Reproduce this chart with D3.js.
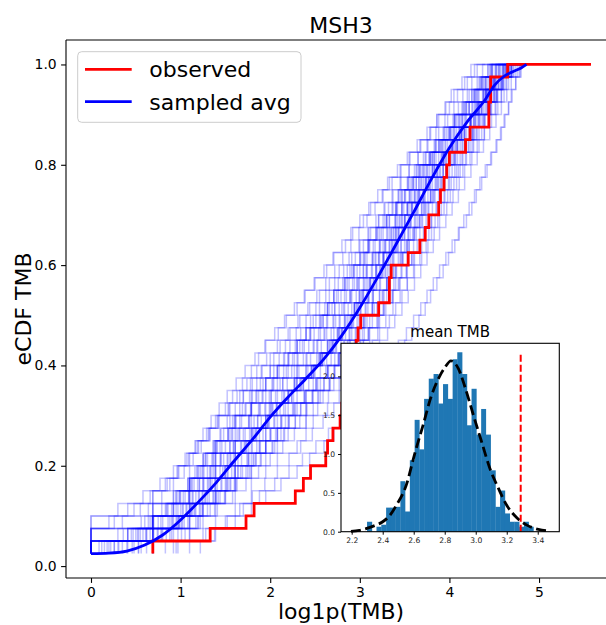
<!DOCTYPE html>
<html>
<head>
<meta charset="utf-8">
<script src="https://cdn.jsdelivr.net/npm/d3@7"></script>
<style>
  html, body { margin: 0; padding: 0; background: #fff; }
  svg { display: block; font-family: "DejaVu Sans", sans-serif; }
</style>
</head>
<body>
<svg id="chart" width="606" height="625"></svg>
<script>
// ---- data -------------------------------------------------------------
// Sorted log1p(TMB) values of the observed MSH3 group (40 tumours)
const observedTMB = [0.69, 1.33, 1.73, 1.82, 2.28, 2.37, 2.45, 2.62, 2.64, 2.70,
  2.78, 2.80, 2.84, 2.87, 2.90, 2.93, 2.96, 2.98, 3.01, 3.21,
  3.33, 3.33, 3.35, 3.54, 3.67, 3.73, 3.77, 3.88, 3.90, 3.94,
  3.97, 4.00, 4.18, 4.23, 4.44, 4.44, 4.46, 4.46, 4.65, 5.58];

// Sorted log1p(TMB) values of resampled groups of the same size
const sampledTMB = [
  [0, 0.41, 0.69, 0.92, 1.05, 1.19, 1.30, 1.39, 1.50, 1.63, 1.76, 1.88, 2.01, 2.14, 2.30, 2.41, 2.53, 2.61, 2.71, 2.83, 2.89, 2.97, 3.04, 3.14, 3.22, 3.33, 3.40, 3.47, 3.58, 3.66, 3.74, 3.83, 3.96, 4.06, 4.15, 4.25, 4.30, 4.40, 4.51, 4.66],
  [0.48, 0.88, 1.10, 1.22, 1.39, 1.50, 1.61, 1.76, 1.89, 2.01, 2.12, 2.26, 2.38, 2.52, 2.64, 2.76, 2.86, 2.95, 3.06, 3.14, 3.22, 3.31, 3.40, 3.46, 3.52, 3.59, 3.66, 3.72, 3.79, 3.88, 3.96, 4.06, 4.14, 4.26, 4.33, 4.43, 4.50, 4.58, 4.69, 4.84],
  [0.18, 0.62, 0.95, 1.03, 1.17, 1.33, 1.44, 1.52, 1.67, 1.80, 1.90, 2.00, 2.15, 2.27, 2.40, 2.55, 2.64, 2.76, 2.84, 2.94, 3.02, 3.12, 3.18, 3.26, 3.35, 3.41, 3.50, 3.59, 3.64, 3.73, 3.81, 3.93, 4.03, 4.11, 4.23, 4.33, 4.40, 4.47, 4.60, 4.73],
  [0, 0, 0.56, 0.79, 0.95, 1.08, 1.16, 1.26, 1.37, 1.45, 1.55, 1.66, 1.77, 1.89, 2.00, 2.10, 2.22, 2.34, 2.45, 2.55, 2.66, 2.76, 2.86, 2.95, 3.04, 3.12, 3.21, 3.28, 3.37, 3.46, 3.55, 3.65, 3.76, 3.88, 3.98, 4.10, 4.20, 4.31, 4.43, 4.60],
  [0.69, 1.01, 1.19, 1.33, 1.49, 1.63, 1.77, 1.90, 2.03, 2.16, 2.28, 2.40, 2.53, 2.66, 2.79, 2.90, 3.00, 3.10, 3.19, 3.27, 3.36, 3.44, 3.52, 3.60, 3.67, 3.73, 3.80, 3.88, 3.95, 4.02, 4.10, 4.18, 4.27, 4.36, 4.44, 4.51, 4.58, 4.64, 4.74, 4.86],
  [0.35, 0.74, 0.90, 1.12, 1.25, 1.33, 1.50, 1.61, 1.68, 1.84, 1.97, 2.07, 2.16, 2.34, 2.46, 2.54, 2.70, 2.77, 2.90, 2.97, 3.03, 3.15, 3.22, 3.27, 3.39, 3.44, 3.54, 3.58, 3.70, 3.77, 3.84, 3.97, 4.04, 4.17, 4.24, 4.36, 4.41, 4.52, 4.61, 4.77],
  [0, 0.30, 0.66, 0.85, 0.99, 1.12, 1.24, 1.35, 1.44, 1.55, 1.66, 1.78, 1.92, 2.04, 2.18, 2.31, 2.43, 2.54, 2.63, 2.72, 2.83, 2.92, 3.00, 3.08, 3.17, 3.26, 3.33, 3.42, 3.51, 3.58, 3.67, 3.77, 3.88, 3.99, 4.08, 4.19, 4.29, 4.38, 4.48, 4.64],
  [0.26, 0.75, 0.99, 1.15, 1.30, 1.46, 1.60, 1.74, 1.88, 2.00, 2.13, 2.27, 2.40, 2.53, 2.65, 2.78, 2.89, 2.99, 3.08, 3.16, 3.25, 3.33, 3.40, 3.48, 3.55, 3.63, 3.70, 3.77, 3.84, 3.92, 4.00, 4.09, 4.18, 4.27, 4.37, 4.45, 4.53, 4.60, 4.70, 4.83],
  [0, 0.55, 0.80, 0.97, 1.09, 1.21, 1.33, 1.45, 1.59, 1.72, 1.86, 1.99, 2.13, 2.27, 2.42, 2.56, 2.69, 2.80, 2.91, 3.01, 3.10, 3.19, 3.28, 3.37, 3.46, 3.54, 3.62, 3.71, 3.79, 3.87, 3.96, 4.05, 4.15, 4.24, 4.33, 4.42, 4.50, 4.57, 4.67, 4.80],
  [0.83, 1.05, 1.17, 1.30, 1.42, 1.53, 1.64, 1.75, 1.85, 1.95, 2.05, 2.15, 2.26, 2.37, 2.48, 2.58, 2.67, 2.75, 2.83, 2.91, 2.99, 3.07, 3.14, 3.21, 3.28, 3.35, 3.42, 3.49, 3.56, 3.63, 3.71, 3.79, 3.88, 3.97, 4.06, 4.16, 4.25, 4.34, 4.45, 4.59],
  [0, 0.41, 0.64, 0.83, 1.00, 1.10, 1.22, 1.30, 1.41, 1.53, 1.62, 1.73, 1.84, 1.95, 2.08, 2.21, 2.33, 2.44, 2.55, 2.64, 2.74, 2.84, 2.93, 3.01, 3.10, 3.19, 3.28, 3.36, 3.45, 3.54, 3.63, 3.73, 3.84, 3.94, 4.05, 4.15, 4.25, 4.36, 4.47, 4.62],
  [0.62, 0.97, 1.22, 1.41, 1.58, 1.73, 1.87, 2.00, 2.14, 2.27, 2.40, 2.53, 2.65, 2.77, 2.90, 3.01, 3.11, 3.20, 3.29, 3.37, 3.45, 3.53, 3.60, 3.67, 3.74, 3.80, 3.87, 3.94, 4.01, 4.08, 4.15, 4.23, 4.31, 4.39, 4.47, 4.54, 4.61, 4.66, 4.76, 4.86],
  [0, 0, 0.35, 0.64, 0.79, 0.92, 1.04, 1.14, 1.23, 1.32, 1.43, 1.53, 1.63, 1.74, 1.85, 1.96, 2.08, 2.20, 2.31, 2.42, 2.52, 2.62, 2.72, 2.81, 2.90, 2.99, 3.08, 3.17, 3.26, 3.36, 3.46, 3.56, 3.67, 3.78, 3.86, 3.95, 4.02, 4.17, 4.28, 4.47],
  [0.12, 0.69, 0.96, 1.11, 1.20, 1.38, 1.49, 1.55, 1.73, 1.81, 1.95, 2.02, 2.20, 2.29, 2.46, 2.58, 2.66, 2.80, 2.86, 2.98, 3.04, 3.11, 3.23, 3.30, 3.36, 3.47, 3.51, 3.62, 3.67, 3.77, 3.86, 3.94, 4.06, 4.14, 4.27, 4.33, 4.43, 4.49, 4.63, 4.78],
  [0.56, 0.84, 1.02, 1.17, 1.32, 1.45, 1.57, 1.68, 1.80, 1.92, 2.04, 2.17, 2.30, 2.43, 2.56, 2.68, 2.79, 2.88, 2.97, 3.06, 3.15, 3.23, 3.31, 3.38, 3.46, 3.54, 3.61, 3.69, 3.76, 3.84, 3.93, 4.02, 4.12, 4.22, 4.31, 4.40, 4.47, 4.55, 4.66, 4.81],
  [0, 0.62, 0.86, 1.00, 1.13, 1.26, 1.37, 1.48, 1.59, 1.70, 1.82, 1.94, 2.06, 2.19, 2.32, 2.45, 2.57, 2.68, 2.78, 2.87, 2.96, 3.05, 3.13, 3.21, 3.29, 3.37, 3.45, 3.53, 3.61, 3.69, 3.78, 3.88, 3.98, 4.08, 4.18, 4.28, 4.37, 4.45, 4.56, 4.72],
  [0, 0.58, 0.92, 1.16, 1.36, 1.52, 1.67, 1.81, 1.95, 2.08, 2.21, 2.34, 2.47, 2.60, 2.72, 2.84, 2.95, 3.05, 3.14, 3.22, 3.30, 3.38, 3.46, 3.53, 3.60, 3.67, 3.74, 3.81, 3.88, 3.95, 4.03, 4.12, 4.21, 4.30, 4.38, 4.46, 4.54, 4.61, 4.71, 4.84],
  [0.40, 0.70, 0.88, 1.02, 1.14, 1.25, 1.35, 1.45, 1.55, 1.65, 1.76, 1.87, 1.99, 2.11, 2.24, 2.37, 2.49, 2.60, 2.70, 2.80, 2.90, 2.99, 3.08, 3.17, 3.26, 3.35, 3.44, 3.53, 3.62, 3.71, 3.81, 3.91, 4.02, 4.13, 4.24, 4.34, 4.43, 4.52, 4.64, 4.80],
  [0.69, 0.69, 0.98, 1.10, 1.24, 1.39, 1.50, 1.61, 1.72, 1.85, 1.97, 2.08, 2.21, 2.35, 2.48, 2.60, 2.71, 2.81, 2.90, 2.99, 3.08, 3.16, 3.24, 3.32, 3.40, 3.48, 3.55, 3.63, 3.71, 3.79, 3.87, 3.96, 4.07, 4.17, 4.27, 4.36, 4.44, 4.51, 4.62, 4.76],
  [0.22, 0.52, 0.75, 0.90, 1.03, 1.15, 1.26, 1.36, 1.46, 1.57, 1.68, 1.79, 1.91, 2.03, 2.15, 2.27, 2.38, 2.49, 2.59, 2.69, 2.79, 2.88, 2.97, 3.06, 3.15, 3.24, 3.33, 3.41, 3.50, 3.59, 3.68, 3.78, 3.89, 4.00, 4.11, 4.22, 4.32, 4.41, 4.53, 4.69],
  [0.31, 0.80, 1.04, 1.21, 1.37, 1.51, 1.64, 1.76, 1.88, 2.00, 2.12, 2.25, 2.38, 2.51, 2.64, 2.76, 2.87, 2.96, 3.05, 3.14, 3.22, 3.30, 3.38, 3.45, 3.53, 3.60, 3.67, 3.74, 3.82, 3.90, 3.98, 4.07, 4.17, 4.26, 4.35, 4.43, 4.51, 4.58, 4.69, 4.82],
  [0.09, 0.66, 0.91, 1.07, 1.21, 1.35, 1.47, 1.59, 1.71, 1.83, 1.95, 2.07, 2.20, 2.33, 2.46, 2.58, 2.69, 2.79, 2.88, 2.96, 3.04, 3.12, 3.19, 3.26, 3.33, 3.40, 3.47, 3.54, 3.61, 3.68, 3.75, 3.83, 3.92, 4.01, 4.10, 4.19, 4.28, 4.37, 4.48, 4.62],
  [0.95, 1.10, 1.25, 1.38, 1.50, 1.62, 1.73, 1.84, 1.95, 2.06, 2.17, 2.28, 2.39, 2.51, 2.62, 2.72, 2.82, 2.91, 2.99, 3.07, 3.15, 3.22, 3.29, 3.36, 3.43, 3.50, 3.57, 3.64, 3.71, 3.78, 3.86, 3.95, 4.04, 4.14, 4.24, 4.33, 4.42, 4.50, 4.60, 4.74],
  [0, 0.50, 0.78, 0.95, 1.09, 1.21, 1.33, 1.44, 1.55, 1.66, 1.77, 1.89, 2.01, 2.14, 2.27, 2.40, 2.52, 2.63, 2.73, 2.82, 2.91, 2.99, 3.07, 3.15, 3.23, 3.31, 3.39, 3.47, 3.55, 3.63, 3.72, 3.81, 3.91, 4.01, 4.12, 4.22, 4.31, 4.40, 4.52, 4.68],
  [1.22, 1.38, 1.52, 1.66, 1.80, 1.94, 2.08, 2.21, 2.34, 2.47, 2.59, 2.71, 2.82, 2.93, 3.03, 3.13, 3.22, 3.31, 3.39, 3.47, 3.54, 3.61, 3.68, 3.75, 3.82, 3.89, 3.96, 4.03, 4.10, 4.17, 4.24, 4.31, 4.38, 4.45, 4.52, 4.58, 4.64, 4.69, 4.78, 4.86],
  [0, 0, 0.20, 0.48, 0.69, 0.85, 0.98, 1.09, 1.20, 1.31, 1.42, 1.54, 1.66, 1.78, 1.91, 2.04, 2.17, 2.29, 2.40, 2.51, 2.62, 2.72, 2.82, 2.91, 3.00, 3.09, 3.18, 3.27, 3.36, 3.45, 3.55, 3.65, 3.75, 3.85, 3.95, 4.05, 4.15, 4.25, 4.37, 4.55],
  [0.46, 0.78, 0.97, 1.13, 1.27, 1.41, 1.53, 1.64, 1.76, 1.88, 1.99, 2.11, 2.24, 2.37, 2.50, 2.63, 2.74, 2.84, 2.93, 3.01, 3.10, 3.18, 3.26, 3.34, 3.42, 3.50, 3.57, 3.65, 3.73, 3.81, 3.90, 3.99, 4.09, 4.19, 4.29, 4.38, 4.46, 4.54, 4.65, 4.79],
  [0, 0.69, 0.69, 1.10, 1.10, 1.30, 1.39, 1.53, 1.61, 1.79, 1.86, 2.01, 2.08, 2.30, 2.40, 2.56, 2.64, 2.77, 2.83, 2.94, 3.00, 3.09, 3.18, 3.26, 3.33, 3.43, 3.50, 3.58, 3.66, 3.74, 3.83, 3.93, 4.03, 4.13, 4.23, 4.32, 4.41, 4.48, 4.59, 4.75],
  [0.53, 0.90, 1.08, 1.24, 1.40, 1.55, 1.69, 1.82, 1.95, 2.08, 2.21, 2.34, 2.47, 2.60, 2.72, 2.84, 2.94, 3.03, 3.11, 3.19, 3.27, 3.34, 3.41, 3.48, 3.55, 3.61, 3.67, 3.73, 3.79, 3.86, 3.93, 4.00, 4.08, 4.16, 4.24, 4.31, 4.38, 4.45, 4.55, 4.70],
  [0.15, 0.45, 0.68, 0.84, 0.97, 1.08, 1.18, 1.28, 1.38, 1.48, 1.58, 1.69, 1.80, 1.92, 2.04, 2.16, 2.28, 2.40, 2.51, 2.61, 2.71, 2.81, 2.91, 3.00, 3.10, 3.20, 3.30, 3.40, 3.50, 3.60, 3.70, 3.81, 3.93, 4.05, 4.17, 4.29, 4.40, 4.50, 4.63, 4.81],
  [0, 0, 0, 0.41, 0.66, 0.83, 0.96, 1.07, 1.16, 1.25, 1.34, 1.43, 1.52, 1.62, 1.72, 1.83, 1.94, 2.05, 2.16, 2.27, 2.38, 2.49, 2.60, 2.70, 2.80, 2.90, 3.00, 3.10, 3.20, 3.31, 3.42, 3.53, 3.64, 3.75, 3.86, 3.96, 4.05, 4.14, 4.24, 4.40],
  [0.97, 1.28, 1.50, 1.70, 1.88, 2.05, 2.21, 2.36, 2.51, 2.65, 2.78, 2.91, 3.03, 3.14, 3.24, 3.34, 3.43, 3.52, 3.60, 3.68, 3.75, 3.82, 3.89, 3.96, 4.03, 4.10, 4.16, 4.22, 4.28, 4.34, 4.40, 4.46, 4.52, 4.57, 4.62, 4.66, 4.70, 4.74, 4.80, 4.86],
  [0, 0, 0.26, 0.55, 0.69, 0.88, 0.97, 1.10, 1.19, 1.33, 1.39, 1.50, 1.58, 1.69, 1.79, 1.87, 1.95, 2.09, 2.18, 2.30, 2.39, 2.50, 2.63, 2.71, 2.84, 2.92, 3.04, 3.12, 3.25, 3.33, 3.45, 3.55, 3.68, 3.79, 3.88, 4.00, 4.09, 4.20, 4.31, 4.49],
  [1.10, 1.39, 1.61, 1.79, 1.95, 2.12, 2.30, 2.44, 2.60, 2.71, 2.86, 2.99, 3.10, 3.22, 3.30, 3.41, 3.50, 3.58, 3.66, 3.73, 3.79, 3.86, 3.93, 3.99, 4.06, 4.11, 4.19, 4.25, 4.30, 4.36, 4.42, 4.47, 4.53, 4.58, 4.61, 4.66, 4.69, 4.74, 4.79, 4.86],
  [0.30, 0.61, 0.98, 1.06, 1.28, 1.31, 1.52, 1.56, 1.74, 1.77, 1.98, 2.03, 2.24, 2.27, 2.49, 2.52, 2.73, 2.75, 2.92, 2.94, 3.09, 3.11, 3.25, 3.27, 3.41, 3.43, 3.56, 3.58, 3.72, 3.74, 3.89, 3.91, 4.09, 4.11, 4.29, 4.31, 4.45, 4.47, 4.62, 4.78],
  [0, 0.36, 0.60, 0.92, 0.95, 1.13, 1.20, 1.37, 1.40, 1.58, 1.60, 1.79, 1.85, 2.02, 2.10, 2.25, 2.36, 2.45, 2.57, 2.66, 2.76, 2.86, 2.93, 3.05, 3.11, 3.22, 3.30, 3.41, 3.47, 3.60, 3.66, 3.79, 3.85, 4.00, 4.06, 4.18, 4.27, 4.35, 4.46, 4.60],
  [0.69, 0.79, 1.20, 1.25, 1.50, 1.56, 1.79, 1.84, 2.05, 2.12, 2.33, 2.40, 2.59, 2.66, 2.84, 2.90, 3.04, 3.10, 3.21, 3.27, 3.37, 3.43, 3.52, 3.58, 3.67, 3.72, 3.80, 3.86, 3.94, 4.00, 4.08, 4.15, 4.24, 4.31, 4.39, 4.46, 4.53, 4.60, 4.69, 4.84],
  [0, 0, 0, 0.30, 0.58, 0.77, 0.92, 1.05, 1.17, 1.29, 1.41, 1.55, 1.70, 1.85, 2.00, 2.15, 2.30, 2.45, 2.59, 2.72, 2.85, 2.97, 3.08, 3.18, 3.28, 3.38, 3.47, 3.56, 3.65, 3.74, 3.83, 3.93, 4.03, 4.13, 4.23, 4.32, 4.41, 4.49, 4.60, 4.76],
  [0.20, 0.47, 0.70, 0.86, 0.99, 1.10, 1.19, 1.28, 1.36, 1.44, 1.52, 1.61, 1.70, 1.80, 1.90, 2.00, 2.11, 2.22, 2.33, 2.44, 2.55, 2.66, 2.77, 2.88, 2.99, 3.10, 3.21, 3.32, 3.43, 3.54, 3.66, 3.78, 3.90, 4.02, 4.14, 4.26, 4.38, 4.50, 4.64, 4.82],
  [0, 0.69, 1.01, 1.25, 1.44, 1.60, 1.75, 1.89, 2.02, 2.15, 2.28, 2.41, 2.54, 2.67, 2.79, 2.91, 3.01, 3.11, 3.20, 3.29, 3.37, 3.45, 3.53, 3.61, 3.69, 3.77, 3.84, 3.91, 3.98, 4.05, 4.12, 4.19, 4.26, 4.33, 4.40, 4.47, 4.53, 4.59, 4.67, 4.80],
  [0.41, 0.69, 0.69, 1.10, 1.39, 1.39, 1.61, 1.61, 1.79, 2.08, 2.08, 2.20, 2.40, 2.48, 2.64, 2.77, 2.83, 2.89, 3.04, 3.09, 3.14, 3.30, 3.33, 3.43, 3.50, 3.56, 3.64, 3.69, 3.81, 3.85, 3.93, 4.04, 4.09, 4.17, 4.28, 4.36, 4.41, 4.51, 4.57, 4.74],
  [0, 0.69, 0.69, 0.69, 1.10, 1.10, 1.39, 1.39, 1.61, 1.79, 1.95, 1.95, 2.20, 2.30, 2.30, 2.56, 2.64, 2.71, 2.77, 2.94, 3.00, 3.04, 3.18, 3.22, 3.37, 3.40, 3.50, 3.53, 3.66, 3.76, 3.81, 3.93, 4.01, 4.11, 4.19, 4.30, 4.38, 4.44, 4.55, 4.70],
  [0.53, 1.10, 1.10, 1.25, 1.61, 1.61, 1.79, 1.95, 2.08, 2.20, 2.40, 2.48, 2.56, 2.71, 2.83, 2.94, 3.04, 3.09, 3.22, 3.26, 3.33, 3.40, 3.47, 3.58, 3.64, 3.71, 3.78, 3.85, 3.91, 3.99, 4.06, 4.14, 4.22, 4.28, 4.39, 4.45, 4.52, 4.59, 4.69, 4.82],
  [0, 0, 0.69, 0.69, 0.92, 1.10, 1.10, 1.25, 1.39, 1.53, 1.61, 1.79, 1.79, 1.95, 2.08, 2.20, 2.30, 2.40, 2.56, 2.64, 2.71, 2.83, 2.89, 3.00, 3.09, 3.18, 3.26, 3.37, 3.43, 3.53, 3.61, 3.71, 3.83, 3.93, 4.04, 4.14, 4.22, 4.33, 4.43, 4.58],
  [0.69, 0.92, 1.10, 1.39, 1.39, 1.61, 1.61, 1.79, 1.95, 1.95, 2.20, 2.30, 2.48, 2.56, 2.71, 2.77, 2.89, 3.00, 3.04, 3.14, 3.26, 3.30, 3.37, 3.47, 3.53, 3.61, 3.69, 3.76, 3.83, 3.91, 3.97, 4.06, 4.17, 4.25, 4.33, 4.42, 4.49, 4.55, 4.65, 4.79],
  [0.26, 0.53, 0.69, 0.92, 1.10, 1.25, 1.39, 1.39, 1.61, 1.61, 1.79, 1.79, 1.95, 2.08, 2.20, 2.30, 2.48, 2.56, 2.64, 2.77, 2.89, 2.94, 3.04, 3.14, 3.22, 3.30, 3.40, 3.47, 3.56, 3.66, 3.76, 3.85, 3.95, 4.04, 4.14, 4.22, 4.33, 4.42, 4.52, 4.66],
  [0.92, 1.25, 1.39, 1.61, 1.79, 1.79, 1.95, 2.08, 2.30, 2.40, 2.48, 2.64, 2.77, 2.83, 2.94, 3.04, 3.14, 3.22, 3.33, 3.40, 3.47, 3.53, 3.61, 3.69, 3.76, 3.83, 3.89, 3.97, 4.04, 4.11, 4.17, 4.25, 4.33, 4.39, 4.45, 4.52, 4.58, 4.63, 4.72, 4.86],
  [0, 0.41, 0.69, 0.69, 0.92, 1.10, 1.25, 1.25, 1.39, 1.53, 1.61, 1.72, 1.87, 1.95, 2.08, 2.20, 2.30, 2.40, 2.48, 2.64, 2.71, 2.83, 2.94, 3.04, 3.09, 3.18, 3.30, 3.40, 3.47, 3.56, 3.64, 3.74, 3.85, 3.95, 4.06, 4.17, 4.28, 4.36, 4.47, 4.63]
];

// Average eCDF of the resampled groups
const avgCurveX = [0, 0.2, 0.4, 0.6, 0.8, 1.0, 1.2, 1.4, 1.6, 1.8, 2.0, 2.2, 2.4, 2.6, 2.8,
  3.0, 3.2, 3.4, 3.6, 3.8, 4.0, 4.2, 4.4, 4.5, 4.6, 4.7, 4.8, 4.86];
const avgCurveY = [0.025, 0.026, 0.030, 0.042, 0.062, 0.092, 0.128, 0.167, 0.210, 0.252, 0.297, 0.337, 0.374, 0.413, 0.460,
  0.515, 0.576, 0.640, 0.705, 0.772, 0.834, 0.886, 0.930, 0.958, 0.975, 0.985, 0.993, 1.0];

// Histogram (density) of the resampled group means
const histBinEdges = [2.299, 2.330, 2.360, 2.391, 2.422, 2.452, 2.483, 2.514, 2.544, 2.575,
  2.606, 2.636, 2.667, 2.697, 2.728, 2.759, 2.789, 2.820, 2.851, 2.881,
  2.912, 2.943, 2.973, 3.004, 3.035, 3.065, 3.096, 3.127, 3.157, 3.188,
  3.219, 3.249, 3.280, 3.311, 3.341, 3.372];
const histDensity = [0.128, 0, 0.064, 0.09, 0.31, 0.31, 0.32, 0.65, 0.26, 0.92,
  1.44, 1.06, 1.71, 1.97, 2.03, 1.65, 1.90, 1.71, 2.22, 2.31,
  2.03, 1.37, 1.84, 1.25, 1.58, 1.25, 0.79, 0.32, 0.53, 0.235,
  0.128, 0.128, 0.064, 0.128, 0.064];

// Fitted normal density over the means
const normalFitX = [2.195, 2.25, 2.293, 2.35, 2.40, 2.45, 2.488, 2.552, 2.606, 2.66, 2.714, 2.767, 2.80,
  2.84, 2.888, 2.931, 2.985, 3.039, 3.092, 3.146, 3.2, 3.265, 3.33, 3.404, 3.475];
const normalFitY = [0.005, 0.018, 0.04, 0.08, 0.128, 0.22, 0.34, 0.60, 1.0, 1.37, 1.75, 2.0, 2.11,
  2.2, 2.1, 1.86, 1.50, 1.15, 0.81, 0.56, 0.34, 0.18, 0.085, 0.03, 0.01];

// Mean log1p(TMB) of the observed group
const observedMeanTMB = 3.29;

const xTicks = [0, 1, 2, 3, 4, 5];
const yTicks = [0.0, 0.2, 0.4, 0.6, 0.8, 1.0];
const insetXTicks = [2.2, 2.4, 2.6, 2.8, 3.0, 3.2, 3.4];
const insetYTicks = [0.0, 0.5, 1.0, 1.5, 2.0];

// ---- layout -------------------------------------------------------------
const svg = d3.select("#chart");
const plot = { left: 66, right: 616, top: 40, bottom: 578 };
const inset = { left: 341, right: 559.3, top: 343.3, bottom: 531.7 };

function padded(lo, hi, f) { const p = (hi - lo) * f; return [lo - p, hi + p]; }

const x = d3.scaleLinear()
  .domain(padded(0, d3.max(observedTMB), 0.05))
  .range([plot.left, plot.right]);
const y = d3.scaleLinear()
  .domain(padded(1 / observedTMB.length, 1, 0.05))
  .range([plot.bottom, plot.top]);

// eCDF as points (value, rank / n)
const ecdf = vals => vals.map((v, i) => [v, (i + 1) / vals.length]);
const stepLine = d3.line().x(d => x(d[0])).y(d => y(d[1])).curve(d3.curveStepBefore);

// Resampled eCDFs
svg.append("g")
  .selectAll("path")
  .data(sampledTMB)
  .join("path")
  .attr("d", s => stepLine(ecdf(s)))
  .attr("fill", "none")
  .attr("stroke", "blue")
  .attr("stroke-opacity", 0.24)
  .attr("stroke-width", 1.5);

// Observed eCDF
svg.append("path")
  .attr("d", stepLine(ecdf(observedTMB)))
  .attr("fill", "none")
  .attr("stroke", "red")
  .attr("stroke-width", 2.8);

// Average of the resampled eCDFs
const avgLine = d3.line().x(d => x(d[0])).y(d => y(d[1])).curve(d3.curveMonotoneX);
svg.append("path")
  .attr("d", avgLine(avgCurveX.map((v, i) => [v, avgCurveY[i]])))
  .attr("fill", "none")
  .attr("stroke", "blue")
  .attr("stroke-width", 2.8);

// ---- main axes ------------------------------------------------------------
const frame = svg.append("g").attr("stroke", "#000").attr("stroke-width", 1.1).attr("fill", "none");
frame.append("line").attr("x1", plot.left).attr("x2", plot.left).attr("y1", plot.top).attr("y2", plot.bottom);
frame.append("line").attr("x1", plot.left).attr("x2", plot.right).attr("y1", plot.top).attr("y2", plot.top);
frame.append("line").attr("x1", plot.left).attr("x2", plot.right).attr("y1", plot.bottom).attr("y2", plot.bottom);

const xAxis = d3.axisBottom(x).tickValues(xTicks).tickFormat(d3.format("d")).tickSize(4.9).tickPadding(4.4);
svg.append("g").attr("transform", `translate(0,${plot.bottom})`).call(xAxis)
  .call(g => g.select(".domain").remove())
  .call(g => g.selectAll("line").attr("stroke-width", 1.1))
  .call(g => g.selectAll("text").attr("font-size", 13.9).attr("font-family", "DejaVu Sans").attr("fill", "#000"));

const yAxis = d3.axisLeft(y).tickValues(yTicks).tickFormat(d3.format(".1f")).tickSize(4.9).tickPadding(4.4);
svg.append("g").attr("transform", `translate(${plot.left},0)`).call(yAxis)
  .call(g => g.select(".domain").remove())
  .call(g => g.selectAll("line").attr("stroke-width", 1.1))
  .call(g => g.selectAll("text").attr("font-size", 13.9).attr("font-family", "DejaVu Sans").attr("fill", "#000"));

svg.append("text").attr("x", (plot.left + plot.right) / 2).attr("y", 33)
  .attr("text-anchor", "middle").attr("font-size", 22).text("MSH3");
svg.append("text").attr("x", (plot.left + plot.right) / 2).attr("y", 619)
  .attr("text-anchor", "middle").attr("font-size", 22).text("log1p(TMB)");
svg.append("text").attr("transform", `translate(31,${(plot.top + plot.bottom) / 2}) rotate(-90)`)
  .attr("text-anchor", "middle").attr("font-size", 22).text("eCDF TMB");

// ---- legend ---------------------------------------------------------------
const legend = svg.append("g");
legend.append("rect").attr("x", 77.7).attr("y", 51.7).attr("width", 223.3).attr("height", 70.6)
  .attr("rx", 4).attr("fill", "#fff").attr("fill-opacity", 0.8).attr("stroke", "#cccccc").attr("stroke-width", 1);
[["observed", "red", 69.3], ["sampled avg", "blue", 101.7]].forEach(([label, color, ly]) => {
  legend.append("line").attr("x1", 85).attr("x2", 131.7).attr("y1", ly).attr("y2", ly)
    .attr("stroke", color).attr("stroke-width", 2.8);
  legend.append("text").attr("x", 149.3).attr("y", ly + 7.8).attr("font-size", 22).text(label);
});

// ---- inset: distribution of resampled means ----------------------------------
const ix = d3.scaleLinear()
  .domain(padded(normalFitX[0], normalFitX[normalFitX.length - 1], 0.05))
  .range([inset.left, inset.right]);
const iy = d3.scaleLinear()
  .domain([0, d3.max(histDensity) * 1.05])
  .range([inset.bottom, inset.top]);

const ig = svg.append("g");
ig.append("rect").attr("x", inset.left).attr("y", inset.top)
  .attr("width", inset.right - inset.left).attr("height", inset.bottom - inset.top).attr("fill", "#fff");

ig.append("g").selectAll("rect")
  .data(histDensity)
  .join("rect")
  .attr("x", (d, i) => ix(histBinEdges[i]))
  .attr("width", (d, i) => ix(histBinEdges[i + 1]) - ix(histBinEdges[i]) + 0.3)
  .attr("y", d => iy(d))
  .attr("height", d => iy(0) - iy(d))
  .attr("fill", "#1f77b4");

const fitLine = d3.line().x(d => ix(d[0])).y(d => iy(d[1])).curve(d3.curveMonotoneX);
ig.append("path")
  .attr("d", fitLine(normalFitX.map((v, i) => [v, normalFitY[i]])))
  .attr("fill", "none").attr("stroke", "#000").attr("stroke-width", 2.8)
  .attr("stroke-dasharray", "10,4.5");

ig.append("line")
  .attr("x1", ix(observedMeanTMB)).attr("x2", ix(observedMeanTMB))
  .attr("y1", iy(0)).attr("y2", iy(d3.max(histDensity)))
  .attr("stroke", "red").attr("stroke-width", 2).attr("stroke-dasharray", "7,3");

ig.append("rect").attr("x", inset.left).attr("y", inset.top)
  .attr("width", inset.right - inset.left).attr("height", inset.bottom - inset.top)
  .attr("fill", "none").attr("stroke", "#000").attr("stroke-width", 1.1);

const ixAxis = d3.axisBottom(ix).tickValues(insetXTicks).tickFormat(d3.format(".1f")).tickSize(3).tickPadding(3);
ig.append("g").attr("transform", `translate(0,${inset.bottom})`).call(ixAxis)
  .call(g => g.select(".domain").remove())
  .call(g => g.selectAll("text").attr("font-size", 7.6).attr("font-family", "DejaVu Sans").attr("fill", "#222"));

const iyAxis = d3.axisLeft(iy).tickValues(insetYTicks).tickFormat(d3.format(".1f")).tickSize(3).tickPadding(3);
ig.append("g").attr("transform", `translate(${inset.left},0)`).call(iyAxis)
  .call(g => g.select(".domain").remove())
  .call(g => g.selectAll("text").attr("font-size", 7.6).attr("font-family", "DejaVu Sans").attr("fill", "#222"));

ig.append("text").attr("x", (inset.left + inset.right) / 2).attr("y", 336.7)
  .attr("text-anchor", "middle").attr("font-size", 15).text("mean TMB");
</script>
</body>
</html>
